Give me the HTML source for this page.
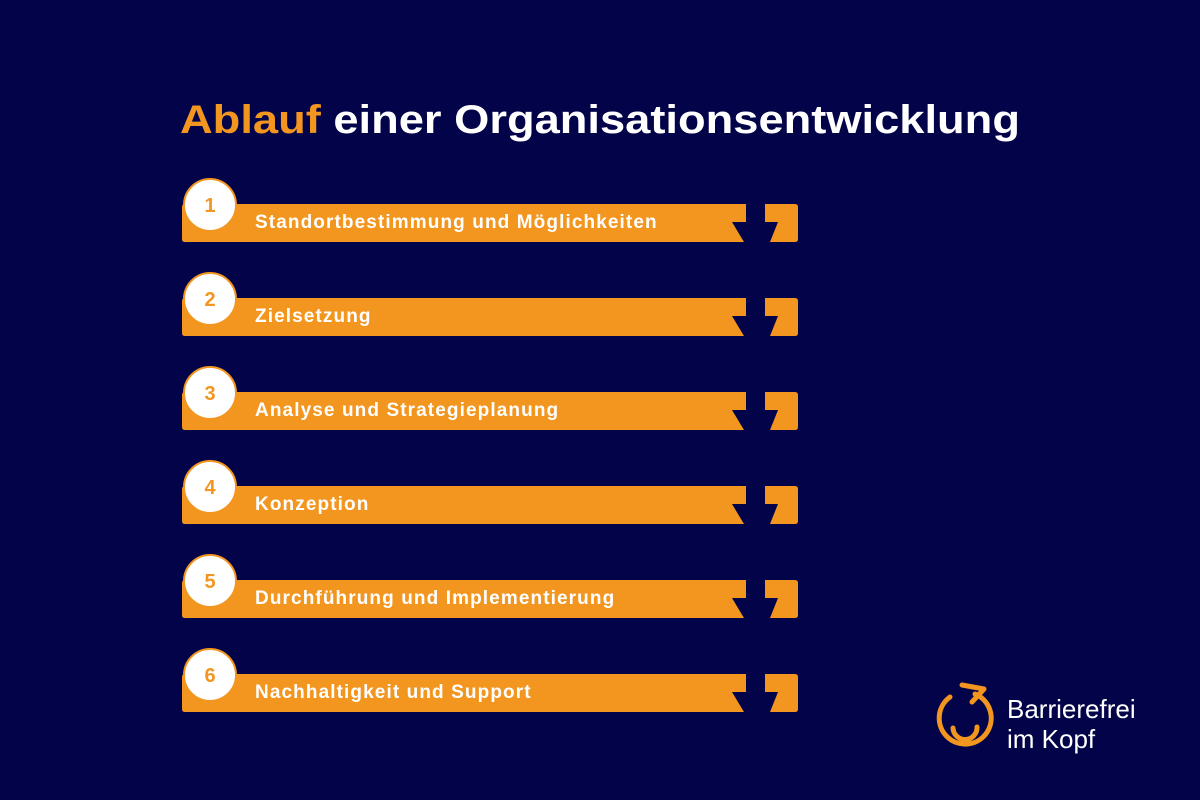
<!DOCTYPE html>
<html><head><meta charset="utf-8"><style>
body{margin:0;width:1200px;height:800px;background:#03034a;overflow:hidden;font-family:"Liberation Sans",sans-serif}
svg{display:block}
</style></head><body>
<svg width="1200" height="800" viewBox="0 0 1200 800">
<rect width="1200" height="800" fill="#03034a"/>
<text x="180" y="133" font-size="40" font-weight="bold" fill="#fff" textLength="840" lengthAdjust="spacingAndGlyphs"><tspan fill="#f29620">Ablauf</tspan> einer Organisationsentwicklung</text>
<g id="steps"></g>
<g>
<path d="M 950 697 A 26 26 0 1 0 975 694" fill="none" stroke="#f29620" stroke-width="5" stroke-linecap="round"/>
<path d="M 962 685 L 984 689 L 972 702" fill="none" stroke="#f29620" stroke-width="5" stroke-linecap="round" stroke-linejoin="round"/>
<path d="M 953 728 A 11 11 0 0 0 977 727" fill="none" stroke="#f29620" stroke-width="5" stroke-linecap="round"/>
<text x="1007" y="718" font-size="26" fill="#fff">Barrierefrei</text>
<text x="1007" y="748" font-size="26" fill="#fff">im Kopf</text>
</g>
</svg>
<script>
const labels=["Standortbestimmung und Möglichkeiten","Zielsetzung","Analyse und Strategieplanung","Konzeption","Durchführung und Implementierung","Nachhaltigkeit und Support"];
const g=document.getElementById('steps');
const NS='http://www.w3.org/2000/svg';
labels.forEach((l,i)=>{
 const t=204+i*94;
 const grp=document.createElementNS(NS,'g');
 
 
 const o='#f29620';
 grp.innerHTML=
 `<path d="M182 ${t+3} Q182 ${t} 185 ${t} L746 ${t} L746 ${t+18} L732 ${t+18} L744 ${t+38} L185 ${t+38} Q182 ${t+38} 182 ${t+35} Z" fill="${o}"/>`+
 `<path d="M765 ${t} L795 ${t} Q798 ${t} 798 ${t+3} L798 ${t+35} Q798 ${t+38} 795 ${t+38} L770 ${t+38} L778 ${t+18} L765 ${t+18} Z" fill="${o}"/>`+
 `<circle cx="210" cy="${t+1}" r="26" fill="#fff" stroke="${o}" stroke-width="2"/>`+
 `<text x="210" y="${t+8}" text-anchor="middle" font-size="20" font-weight="bold" fill="${o}">${i+1}</text>`+
 `<text x="255" y="${t+24}" font-size="19" font-weight="bold" letter-spacing="1.1" fill="#fff">${l}</text>`;
 g.appendChild(grp);
});
</script>
</body></html>
